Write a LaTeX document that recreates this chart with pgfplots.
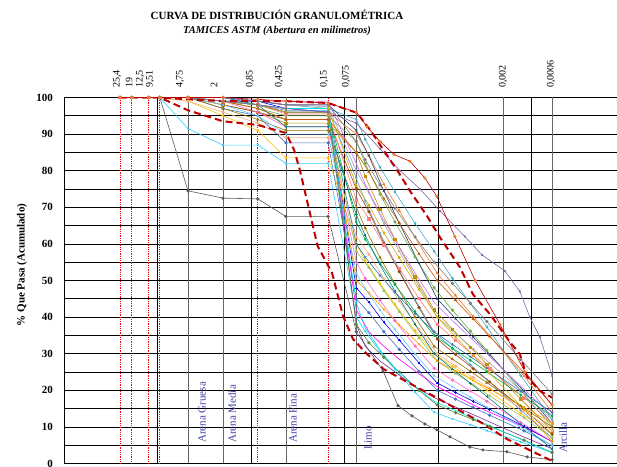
\documentclass[border=0pt]{standalone}
\usepackage{pgfplots}
\pgfplotsset{compat=1.18}
\usepackage{pgfplotstable}
\usepackage{fontspec}
\setmainfont{Liberation Serif}

\definecolor{c2}{HTML}{33CCFF}
\definecolor{c3}{HTML}{FFC000}
\definecolor{c4}{HTML}{4472C4}
\definecolor{c9}{HTML}{4BACC6}
\definecolor{c10}{HTML}{ED7D31}
\definecolor{c11}{HTML}{70AD47}
\definecolor{c12}{HTML}{264478}
\definecolor{c13}{HTML}{BF9000}
\definecolor{c14}{HTML}{A5A5A5}
\definecolor{c15}{HTML}{5B9BD5}
\definecolor{c16}{HTML}{9E480E}
\definecolor{c17}{HTML}{997300}
\definecolor{c18}{HTML}{FF00FF}
\definecolor{c19}{HTML}{7030A0}
\definecolor{c20}{HTML}{0000FF}
\definecolor{c21}{HTML}{FF66CC}
\definecolor{c22}{HTML}{F4B183}
\definecolor{c23}{HTML}{00B050}
\definecolor{c24}{HTML}{9BBB59}
\definecolor{c25}{HTML}{66CCFF}
\definecolor{c26}{HTML}{FF7C80}
\definecolor{c27}{HTML}{CC66FF}
\definecolor{c28}{HTML}{548235}
\definecolor{c29}{HTML}{008080}
\definecolor{c30}{HTML}{C55A11}
\definecolor{c31}{HTML}{2E75B6}
\definecolor{c32}{HTML}{DDAA00}
\definecolor{c33}{HTML}{7F7F7F}
\definecolor{c34}{HTML}{FF9900}
\definecolor{c35}{HTML}{00E0E0}
\definecolor{dkred}{HTML}{C00000}
\definecolor{dkgray}{HTML}{595959}
\definecolor{lav}{HTML}{8064A2}
\definecolor{regblue}{HTML}{4040A8}

\pgfplotstableread{
d c2 c3 c9 c11 c13 c15 c17 c19 c21 c23 c25 c27 c29 c31 c33 c35
25.4 100 100 100 100 100 100 100 100 100 100 100 100 100 100 100 100
19 100 100 100 100 100 100 100 100 100 100 100 100 100 100 100 100
12.5 100 100 100 100 100 100 100 100 100 100 100 100 100 100 100 100
9.51 100 100 100 100 100 100 100 100 100 100 100 100 100 100 100 100
4.75 91.5 99 100 100 100 100 100 100 100 100 100 100 100 100 100 100
2 87 95 100 99 98 99 97 100 99 100 98 100 99 100 100 99
0.85 87 91 99 97 96 98 94 99 96 98 95 99 98 98 99 98
0.425 82 83.5 98 95 93 96.5 91 98 92 96 90 99 92 96 98 97
0.15 82 83.5 97 95 93 96.5 91 98 92 96 90 99 92 96 98 97
0.075 40 60 94 88 85 78 70 38 55 66 52 82 68 60 88 44
0.0602 36.1 55.5 88.6 82 78.5 71.7 64.3 32 50.6 61.3 47.8 76.3 62.3 56.4 83 37
0.0418 30.6 49.2 81 73.6 69.5 62.9 56.3 28 44.6 54.8 41.9 68.3 54.3 51.4 76.1 31
0.0289 25.7 43.5 74.2 66 61.3 54.9 49.1 25 39 48.9 36.6 61.1 47.1 46.8 69.8 26
0.0176 19.5 36.3 65.6 56.4 51 44.8 40 21 32.1 41.5 29.9 52 38 41 61.9 21
0.011 14 30 58 48 42 36 32 18 26 35 24 44 30 36 55 17
0.007 12.2 26.5 50.6 41.9 36.7 31.4 28.5 15.8 22.8 31.5 21 39 25.8 32.5 49.2 14.8
0.0045 10.6 23.2 43.7 36.2 31.8 27 25.2 13.7 19.8 28.2 18.1 34.4 21.9 29.2 43.8 12.7
0.003 9 20.1 37.3 30.9 27.1 23 22.1 11.7 17 25.1 15.4 30 18.3 26.1 38.8 10.7
0.0013 5.9 13.7 24 19.9 17.6 14.5 15.7 7.6 11.2 18.7 9.9 21.1 10.8 19.7 28.4 6.6
0.0006 3 8 12 10 9 7 10 4 6 13 5 13 4 14 19 3
}\tabA

\pgfplotstableread{
d c4 c10 c12 c14 c16 c18 c20 c22 c24 c26 c28 c30 c32 c34
25.4 100 100 100 100 100 100 100 100 100 100 100 100 100 100
19 100 100 100 100 100 100 100 100 100 100 100 100 100 100
12.5 100 100 100 100 100 100 100 100 100 100 100 100 100 100
9.51 100 100 100 100 100 100 100 100 100 100 100 100 100 100
4.75 100 100 100 100 100 100 100 99 100 100 100 100 100 100
2 97 99 100 99 98 99 99 96 99 99 99 99 99 99
0.85 95 98 99 99 96 98 99 93 97 98 98 97 98 98
0.425 87.6 96 98 98 94 97 97 89 94 95.5 96 94 97 96
0.15 87.6 96 98 97.5 94 97 96 89 94 95.5 96 94 97 96
0.075 45 90 91 80 75 42 48 62 58 72 38 85 76 50
0.055 41.2 84.3 84.1 74 68.8 36 44.1 57.2 53.5 66.9 33 79.7 70.6 46.7
0.038 36 76.3 74.4 65.6 60.2 32 38.6 50.5 47.2 59.8 29 72.4 63 42.1
0.026 31.2 69.1 65.7 58 52.4 28.5 33.7 44.4 41.5 53.3 25 65.7 56.2 37.9
0.016 25.2 60 54.7 48.4 42.6 24.5 27.5 36.7 34.3 45.1 20 57.3 47.6 32.6
0.0102 20 52 45 40 34 21 22 30 28 38 16 50 40 28
0.0065 17.6 45.9 39.6 35.5 29.8 18.5 19.4 26.6 24.6 33.7 13.9 44.6 34.6 25.3
0.0042 15.3 40.2 34.5 31.3 25.9 16 17 23.5 21.5 29.6 12 39.5 29.5 22.7
0.0028 13.2 34.9 29.7 27.4 22.3 14 14.8 20.5 18.5 25.8 10.1 34.7 24.7 20.3
0.0012 8.9 23.9 19.8 19.3 14.8 10 10.2 14.5 12.5 18 6.4 24.8 14.8 15.4
0.0006 5 14 11 12 8 6 6 9 7 11 3 16 6 11
}\tabB

\pgfplotsset{cv/.style={line width=0.6bp, mark size=1.3bp, mark options={solid}}}

\begin{document}
\begin{tikzpicture}
\begin{axis}[
  at={(0,0)}, anchor=south west, scale only axis,
  width=560.4bp, height=366bp,
  xmode=log, x dir=reverse, xmin=0.0001, xmax=100,
  ymin=0, ymax=100,
  xtick={10,1,0.1,0.01,0.001}, xticklabels={},
  extra x ticks={4.75,2,0.425,0.075,0.002,0.0006}, extra x tick labels={},
  extra x tick style={grid=major, major grid style={black!60, line width=0.8bp}},
  ytick={0,10,...,100}, minor ytick={5,15,...,95},
  xmajorgrids, ymajorgrids, yminorgrids,
  major grid style={black, line width=0.6bp},
  minor grid style={black, line width=0.6bp},
  major tick length=0pt, minor tick length=0pt,
  axis line style={black, line width=0.8bp},
  yticklabel style={font=\bfseries\fontsize{11bp}{13bp}\selectfont, xshift=-8bp},
  /pgf/number format/assume math mode=true,
]
\pgfplotsinvokeforeach{25.4,19,12.5,9.51,0.85,0.15}{
  \draw[red, densely dotted, line width=0.8bp] (axis cs:#1,0) -- (axis cs:#1,100);
}

% sample with gravel drop
\addplot[cv, color=dkgray, mark=*] coordinates {
(25.4,100) (19,100) (12.5,100) (9.51,100) (4.75,74.5) (2,72.5) (0.85,72.3) (0.425,67.5) (0.15,67.5)
(0.075,36) (0.0388,25.3) (0.0268,15.8) (0.019,13) (0.0138,10.8) (0.0103,9.2) (0.00745,7.3)
(0.00455,4.5) (0.0033,3.7) (0.00183,3.2) (0.00111,1.8) (0.0006,1)};

\addplot[cv, color=c2, mark=x] table[x=d,y=c2]{\tabA};
\addplot[cv, color=c3, mark=diamond*] table[x=d,y=c3]{\tabA};
\addplot[cv, color=c4, mark=*] table[x=d,y=c4]{\tabB};
\addplot[cv, color=c9, mark=diamond*] table[x=d,y=c9]{\tabA};
\addplot[cv, color=c10, mark=triangle*] table[x=d,y=c10]{\tabB};
\addplot[cv, color=c11, mark=*] table[x=d,y=c11]{\tabA};
\addplot[cv, color=c12, mark=x] table[x=d,y=c12]{\tabB};
\addplot[cv, color=c13, mark=square*] table[x=d,y=c13]{\tabA};
\addplot[cv, color=c14, mark=x] table[x=d,y=c14]{\tabB};
\addplot[cv, color=c15, mark=star] table[x=d,y=c15]{\tabA};
\addplot[cv, color=c16, mark=*] table[x=d,y=c16]{\tabB};
\addplot[cv, color=c17, mark=triangle*] table[x=d,y=c17]{\tabA};
\addplot[cv, color=c18, mark=none] table[x=d,y=c18]{\tabB};
\addplot[cv, color=c19, mark=none] table[x=d,y=c19]{\tabA};
\addplot[cv, color=c20, mark=+] table[x=d,y=c20]{\tabB};
\addplot[cv, color=c21, mark=*] table[x=d,y=c21]{\tabA};
\addplot[cv, color=c22, mark=*] table[x=d,y=c22]{\tabB};
\addplot[cv, color=c23, mark=diamond*] table[x=d,y=c23]{\tabA};
\addplot[cv, color=c24, mark=triangle*] table[x=d,y=c24]{\tabB};
\addplot[cv, color=c25, mark=x] table[x=d,y=c25]{\tabA};
\addplot[cv, color=c26, mark=square*] table[x=d,y=c26]{\tabB};
\addplot[cv, color=c27, mark=none] table[x=d,y=c27]{\tabA};
\addplot[cv, color=c28, mark=*] table[x=d,y=c28]{\tabB};
\addplot[cv, color=c29, mark=+] table[x=d,y=c29]{\tabA};
\addplot[cv, color=c30, mark=triangle*] table[x=d,y=c30]{\tabB};
\addplot[cv, color=c31, mark=star] table[x=d,y=c31]{\tabA};
\addplot[cv, color=c32, mark=diamond*] table[x=d,y=c32]{\tabB};
\addplot[cv, color=c33, mark=*] table[x=d,y=c33]{\tabA};
\addplot[cv, color=c34, mark=x] table[x=d,y=c34]{\tabB};
\addplot[cv, color=c35, mark=none] table[x=d,y=c35]{\tabA};

\addplot[cv, color=lav, mark=x] coordinates {
(25.4,100) (19,100) (12.5,100) (9.51,100) (4.75,100) (2,99) (0.85,98) (0.425,97) (0.15,96)
(0.075,93) (0.0418,86) (0.0255,80) (0.0156,75) (0.00953,69) (0.00515,62) (0.00338,57)
(0.00192,52.6) (0.00133,47) (0.00104,40) (0.00081,34.5) (0.0006,24)};

\addplot[cv, color=dkred, mark=*, mark options={fill=c10, draw=c10}] coordinates {
(25.4,100) (19,100) (12.5,100) (9.51,100) (4.75,100) (2,100) (0.85,99.5) (0.425,99) (0.15,98.5)
(0.075,96) (0.0575,92) (0.0418,88) (0.0295,84.4) (0.02,82.6) (0.0138,78) (0.0103,73)
(0.0066,62) (0.004,50) (0.00217,38) (0.00117,25) (0.0006,16)};

% envelopes
\addplot[color=dkred, line width=2bp, dash pattern=on 7bp off 4bp] coordinates {
(25.4,100) (19,100) (12.5,100) (9.51,100) (4.75,99.5) (2,99) (0.85,99) (0.425,99) (0.15,98.5)
(0.0737,95.8) (0.0535,91.2) (0.0418,87.1) (0.0255,78.9) (0.02,74.5) (0.0131,67.6) (0.00953,61.8)
(0.00582,53.6) (0.00422,46.2) (0.00278,40.8) (0.0017,33.2) (0.00133,29.9) (0.00111,23.6)
(0.00081,19.8) (0.0006,18)};
\addplot[color=dkred, line width=2bp, dash pattern=on 7bp off 4bp] coordinates {
(25.4,100) (19,100) (12.5,100) (9.51,100) (4.75,96.5) (2,93.5) (0.85,92.5) (0.425,90.3)
(0.3475,85.7) (0.30,80) (0.195,59.5) (0.136,52) (0.104,40.3) (0.0813,34) (0.0575,29.9)
(0.0382,25.8) (0.0215,22.3) (0.0113,18.5) (0.00627,14.9) (0.00356,11.4) (0.00183,6.7)
(0.00096,3.2) (0.0006,0.7)};
\end{axis}

% titles
\node[anchor=base, font=\bfseries\fontsize{11bp}{13bp}\selectfont] at (212.6bp,443.5bp) {CURVA DE DISTRIBUCIÓN GRANULOMÉTRICA};
\node[anchor=base, font=\bfseries\itshape\fontsize{10.5bp}{12bp}\selectfont] at (212.6bp,429.5bp) {TAMICES ASTM (Abertura en milimetros)};

% sieve labels
\begin{scope}[every node/.style={rotate=90, anchor=west, inner sep=0pt, font=\fontsize{10bp}{12bp}\selectfont}]
\node at (52.6bp,375.5bp) {25,4};
\node at (64.6bp,375.5bp) {19};
\node at (75.6bp,375.5bp) {12,5};
\node at (85.6bp,375.5bp) {9,51};
\node at (115.6bp,375.5bp) {4,75};
\node at (149.6bp,375.5bp) {2};
\node at (185.6bp,375.5bp) {0,85};
\node at (214.6bp,375.5bp) {0,425};
\node at (259.6bp,375.5bp) {0,15};
\node at (281.6bp,375.5bp) {0,075};
\node at (438.6bp,375.5bp) {0,002};
\node at (486.6bp,375.5bp) {0,0006};
\end{scope}

% y label
\node[rotate=90, font=\bfseries\fontsize{11bp}{13bp}\selectfont] at (-42.4bp,198.5bp) {\% Que Pasa (Acumulado)};

% soil class labels
\begin{scope}[every node/.style={rotate=90, anchor=west, inner sep=0pt, text=regblue, font=\fontsize{11bp}{13bp}\selectfont}]
\node at (137.6bp,20.5bp) {Arena Gruesa};
\node at (167.6bp,20.5bp) {Arena Media};
\node at (228.6bp,20.5bp) {Arena Fina};
\node at (303.6bp,13.5bp) {Limo};
\node at (498.6bp,10.5bp) {Arcilla};
\end{scope}

\pgfresetboundingbox
\path[use as bounding box] (-64.4bp,-3.5bp) rectangle (552.6bp,463.5bp);
\end{tikzpicture}
\end{document}
